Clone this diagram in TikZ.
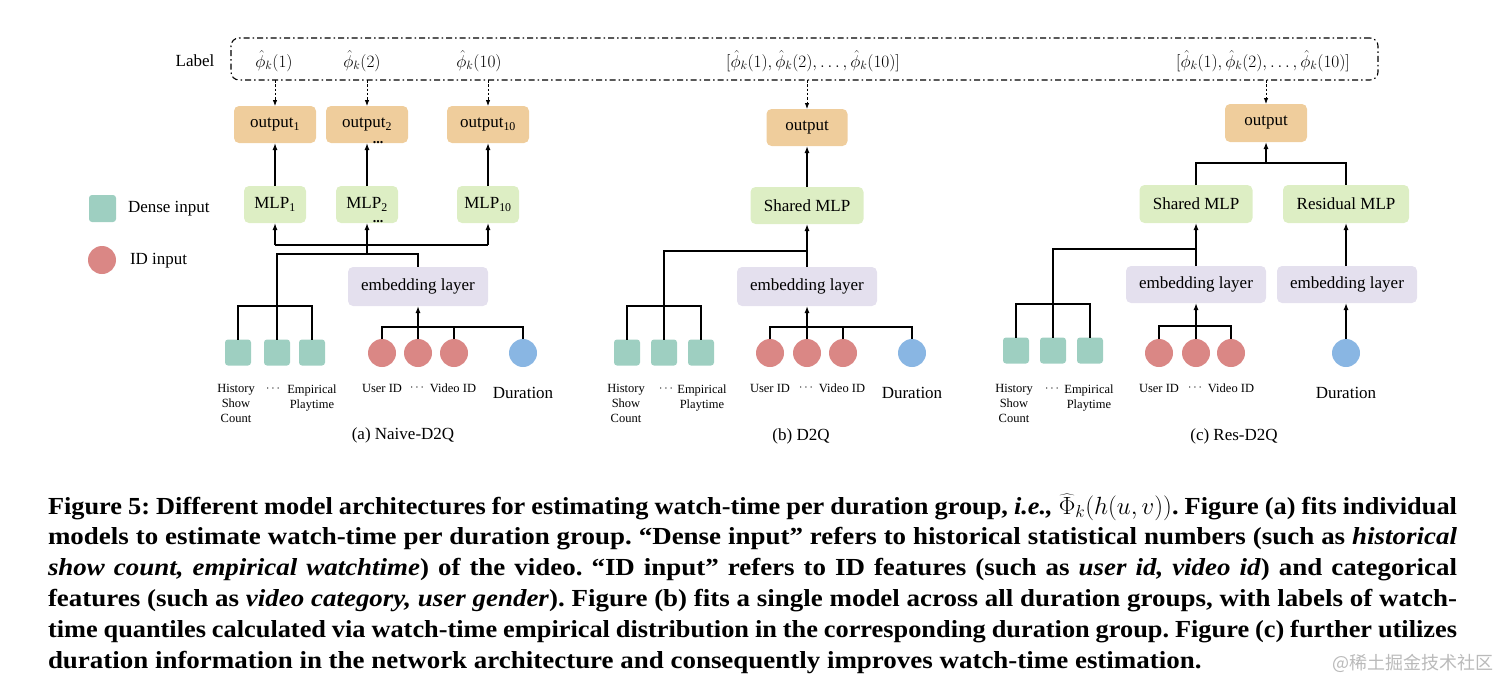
\documentclass[tikz,border=0pt]{standalone}
\usepackage{fontspec}
\setmainfont{Liberation Serif}
\newfontfamily\capfont[FakeStretch=1.1]{Liberation Serif}
\newfontfamily\capfontn[FakeStretch=1.075]{Liberation Serif}
\newfontfamily\cjkfont{Noto Sans CJK SC}
\usetikzlibrary{arrows.meta}
\definecolor{outc}{HTML}{EFCD9C}
\definecolor{mlpc}{HTML}{DDEEC4}
\definecolor{embc}{HTML}{E4E0EE}
\definecolor{densec}{HTML}{9ECFC1}
\definecolor{idc}{HTML}{DA8785}
\definecolor{durc}{HTML}{89B6E3}
\frenchspacing
\begin{document}
\begin{tikzpicture}[x=1pt,y=-1pt,
  every node/.style={inner sep=0pt, outer sep=0pt},
  blk/.style={rounded corners=5pt, text=black, font=\fontsize{17}{20}\selectfont, align=center},
  outbox/.style={blk, fill=outc, minimum width=82pt, minimum height=37pt},
  mlpbox/.style={blk, fill=mlpc, minimum height=37pt},
  embbox/.style={blk, fill=embc, minimum width=140pt, minimum height=39pt},
  densebox/.style={fill=densec, rounded corners=3pt, minimum size=26pt},
  idnode/.style={circle, fill=idc, minimum size=28pt},
  durnode/.style={circle, fill=durc, minimum size=28pt},
  wire/.style={line width=1.3pt, black},
  arr/.style={wire, -{Latex[length=7pt,width=5pt]}},
  darr/.style={line width=0.8pt, dash pattern=on 2.5pt off 1.8pt, -{Latex[length=6pt,width=4.5pt]}},
  small/.style={font=\fontsize{12.5}{15}\selectfont, align=center},
  midtxt/.style={font=\fontsize{17}{20}\selectfont},
  mathlbl/.style={font=\fontsize{18}{20}\selectfont},
  dotsn/.style={font=\bfseries\fontsize{14}{14}\selectfont},
  captxt/.style={font=\capfont\fontsize{24.5}{30}\selectfont\bfseries, anchor=base west},
  captxtn/.style={font=\capfontn\fontsize{24.5}{30}\selectfont\bfseries, anchor=base west},
]
\useasboundingbox (0,0) rectangle (1512,693);

% label box
\node[draw, line width=1.1pt, dash pattern=on 6pt off 3pt on 1.5pt off 3pt, rounded corners=8pt,
  minimum width=1147pt, minimum height=42pt] (lab) at (804.5,59) {};
\node[midtxt] (labtxt) at (195,61) {Label};
\node[mathlbl] (l1) at (274,61) {$\hat{\phi}_k(1)$};
\node[mathlbl] (l2) at (362,61) {$\hat{\phi}_k(2)$};
\node[mathlbl] (l3) at (479,61) {$\hat{\phi}_k(10)$};
\node[mathlbl] (l4) at (813,61) {$[\hat{\phi}_k(1),\hat{\phi}_k(2),\dots,\hat{\phi}_k(10)]$};
\node[mathlbl] (l5) at (1263,61) {$[\hat{\phi}_k(1),\hat{\phi}_k(2),\dots,\hat{\phi}_k(10)]$};

% legend
\node[densebox, minimum size=27pt] (legd) at (102.5,208.5) {};
\node[midtxt, anchor=west] (legdt) at (128,209) {Dense input};
\node[idnode] (legi) at (102,260) {};
\node[midtxt, anchor=west] (legit) at (130,261) {ID input};

% ---------------- (a) ----------------
\node[outbox] (ao1) at (275,124.5) {output\textsubscript{1}};
\node[outbox] (ao2) at (367,124.5) {output\textsubscript{2}};
\node[outbox] (ao3) at (488,124.5) {output\textsubscript{10}};
\node[mlpbox, minimum width=62pt] (am1) at (275,204.5) {MLP\textsubscript{1}};
\node[mlpbox, minimum width=62pt] (am2) at (367,204.5) {MLP\textsubscript{2}};
\node[mlpbox, minimum width=62pt] (am3) at (488,204.5) {MLP\textsubscript{10}};
\node[dotsn] (adots1) at (378,143) {...};
\node[dotsn] (adots2) at (378,222) {...};
\node[embbox] (ae) at (418,286.5) {embedding layer};
\node[densebox] (ad1) at (238,352.5) {};
\node[densebox] (ad2) at (277,352.5) {};
\node[densebox] (ad3) at (312,352.5) {};
\node[idnode] (ai1) at (382,353) {};
\node[idnode] (ai2) at (418,353) {};
\node[idnode] (ai3) at (454,353) {};
\node[durnode] (adur) at (523,353) {};
\coordinate (abus) at (367,245);
\coordinate (aj) at (367,254);
\coordinate (adb) at (277,306);
\coordinate (aib) at (418,327);

\draw[darr] (ao1 |- lab.south) -- (ao1.north);
\draw[darr] (ao2 |- lab.south) -- (ao2.north);
\draw[darr] (ao3 |- lab.south) -- (ao3.north);
\draw[arr] (am1) -- (ao1);
\draw[arr] (am2) -- (ao2);
\draw[arr] (am3) -- (ao3);
\draw[wire] (am1.south |- abus) -- (am3.south |- abus);
\draw[arr] (am1.south |- abus) -- (am1.south);
\draw[arr] (abus) -- (am2.south);
\draw[arr] (am3.south |- abus) -- (am3.south);
\draw[wire] (aj) -- (abus);
\draw[wire] (ad2.north) |- (ae.north |- aj) -- (ae.north);
\draw[wire] (ad1.north) |- (ad3.north |- adb) -- (ad3.north);
\draw[wire] (ai1.north) |- (adur.north |- aib) -- (adur.north);
\draw[wire] (ai3.north) -- (ai3.north |- aib);
\draw[arr] (ai2.north) -- (ae.south);

\node[small, anchor=north] (ah) at (236,384) {History\\Show\\Count};
\node[small] (adt1) at (273,389) {$\cdots$};
\node[small, anchor=north] (aep) at (312,385) {Empirical\\Playtime};
\node[small] (au) at (382,388) {User ID};
\node[small] (adt2) at (417,388) {$\cdots$};
\node[small] (av) at (453,388) {Video ID};
\node[midtxt] (adu) at (523,393) {Duration};
\node[midtxt] (acap) at (403,435) {(a) Naive-D2Q};

% ---------------- (b) ----------------
\node[outbox, minimum width=81pt] (bo) at (807,127.5) {output};
\node[mlpbox, minimum width=113pt] (bm) at (807,205.5) {Shared MLP};
\node[embbox] (be) at (807,286.5) {embedding layer};
\node[densebox] (bd1) at (627,352.5) {};
\node[densebox] (bd2) at (664,352.5) {};
\node[densebox] (bd3) at (701,352.5) {};
\node[idnode] (bi1) at (770,353) {};
\node[idnode] (bi2) at (807,353) {};
\node[idnode] (bi3) at (843,353) {};
\node[durnode] (bdur) at (912,353) {};
\coordinate (bj) at (807,251);
\coordinate (bdb) at (664,306);
\coordinate (bib) at (807,327);

\draw[darr] (bo |- lab.south) -- (bo.north);
\draw[arr] (bm) -- (bo);
\draw[arr] (be.north) -- (bm.south);
\draw[wire] (bd2.north) |- (bj);
\draw[wire] (bd1.north) |- (bd3.north |- bdb) -- (bd3.north);
\draw[wire] (bi1.north) |- (bdur.north |- bib) -- (bdur.north);
\draw[wire] (bi3.north) -- (bi3.north |- bib);
\draw[arr] (bi2.north) -- (be.south);

\node[small, anchor=north] (bh) at (626,384) {History\\Show\\Count};
\node[small] (bdt1) at (666,389) {$\cdots$};
\node[small, anchor=north] (bep) at (702,385) {Empirical\\Playtime};
\node[small] (bu) at (770,388) {User ID};
\node[small] (bdt2) at (806,388) {$\cdots$};
\node[small] (bv) at (842,388) {Video ID};
\node[midtxt] (bdu) at (912,393) {Duration};
\node[midtxt] (bcap) at (801,436) {(b) D2Q};

% ---------------- (c) ----------------
\node[outbox, minimum height=38pt] (co) at (1266,123) {output};
\node[mlpbox, minimum width=113pt, minimum height=38pt] (cm1) at (1196,204) {Shared MLP};
\node[mlpbox, minimum width=126pt, minimum height=38pt] (cm2) at (1346,204) {Residual MLP};
\node[embbox, minimum height=37pt] (ce1) at (1196,284.5) {embedding layer};
\node[embbox, minimum height=37pt] (ce2) at (1347,284.5) {embedding layer};
\node[densebox] (cd1) at (1016,350.5) {};
\node[densebox] (cd2) at (1053,350.5) {};
\node[densebox] (cd3) at (1090,350.5) {};
\node[idnode] (ci1) at (1159,353) {};
\node[idnode] (ci2) at (1196,353) {};
\node[idnode] (ci3) at (1231,353) {};
\node[durnode] (cdur) at (1346,353) {};
\coordinate (cj) at (1266,163);
\coordinate (cj2) at (1196,249);
\coordinate (cdb) at (1053,304);
\coordinate (cib) at (1196,326);

\draw[darr] (co |- lab.south) -- (co.north);
\draw[wire] (cm1.north) |- (cm2.north |- cj) -- (cm2.north);
\draw[arr] (cj) -- (co.south);
\draw[arr] (ce1.north) -- (cm1.south);
\draw[arr] (cm2.south |- ce2.north) -- (cm2.south);
\draw[wire] (cd2.north) |- (cj2);
\draw[wire] (cd1.north) |- (cd3.north |- cdb) -- (cd3.north);
\draw[wire] (ci1.north) |- (ci3.north |- cib) -- (ci3.north);
\draw[arr] (ci2.north) -- (ce1.south);
\draw[arr] (cdur.north) -- (cdur.north |- ce2.south);

\node[small, anchor=north] (ch) at (1014,384) {History\\Show\\Count};
\node[small] (cdt1) at (1052,389) {$\cdots$};
\node[small, anchor=north] (cep) at (1089,385) {Empirical\\Playtime};
\node[small] (cu) at (1159,388) {User ID};
\node[small] (cdt2) at (1195,388) {$\cdots$};
\node[small] (cv) at (1231,388) {Video ID};
\node[midtxt] (cdu) at (1346,393) {Duration};
\node[midtxt] (ccap) at (1234,436) {(c) Res-D2Q};

% ---------------- caption ----------------
\node[captxtn] (c1) at (48,514) {\makebox[1409pt][s]{Figure 5: Different model architectures for estimating watch-time per duration group, \textit{i.e.,} $\widehat{\Phi}_k(h(u,v))$. Figure (a) fits individual}};
\node[captxt] (c2) at (48,544.8) {\makebox[1409pt][s]{models to estimate watch-time per duration group. “Dense input” refers to historical statistical numbers (such as \textit{historical}}};
\node[captxt] (c3) at (48,575.6) {\makebox[1409pt][s]{\textit{show count, empirical watchtime}) of the video. “ID input” refers to ID features (such as \textit{user id, video id}) and categorical}};
\node[captxt] (c4) at (48,606.4) {\makebox[1409pt][s]{features (such as \textit{video category, user gender}). Figure (b) fits a single model across all duration groups, with labels of watch-}};
\node[captxtn] (c5) at (48,637.2) {\makebox[1409pt][s]{time quantiles calculated via watch-time empirical distribution in the corresponding duration group. Figure (c) further utilizes}};
\node[captxt] (c6) at (48,668) {duration information in the network architecture and consequently improves watch-time estimation.};
\node[font=\cjkfont\fontsize{18}{20}\selectfont, text=black!27, anchor=base west] (wm) at (1332,669) {@稀土掘金技术社区};
\end{tikzpicture}
\end{document}
